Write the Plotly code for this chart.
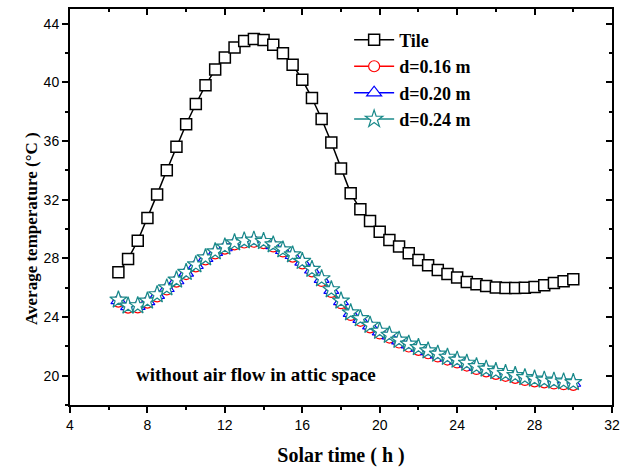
import plotly.graph_objects as go

solar_time = [6.5, 7.0, 7.5, 8.0, 8.5, 9.0, 9.5, 10.0, 10.5, 11.0, 11.5, 12.0,
              12.5, 13.0, 13.5, 14.0, 14.5, 15.0, 15.5, 16.0, 16.5, 17.0, 17.5, 18.0,
              18.5, 19.0, 19.5, 20.0, 20.5, 21.0, 21.5, 22.0, 22.5, 23.0, 23.5, 24.0,
              24.5, 25.0, 25.5, 26.0, 26.5, 27.0, 27.5, 28.0, 28.5, 29.0, 29.5, 30.0]

tile = [27.05, 27.95, 29.2, 30.75, 32.36, 34.0, 35.6, 37.14, 38.52, 39.8, 40.88, 41.7,
        42.38, 42.81, 42.95, 42.88, 42.56, 41.99, 41.2, 40.18, 38.93, 37.5, 35.9, 34.13,
        32.43, 31.34, 30.54, 29.82, 29.25, 28.8, 28.35, 27.89, 27.53, 27.21, 26.94, 26.69,
        26.39, 26.24, 26.12, 26.01, 25.97, 25.97, 25.99, 26.05, 26.17, 26.31, 26.44, 26.58]

d016 = [25.05, 24.64, 24.66, 24.98, 25.41, 25.88, 26.41, 26.93, 27.45, 27.93, 28.34, 28.66,
        28.95, 29.08, 29.13, 29.04, 28.81, 28.47, 28.12, 27.66, 27.11, 26.46, 25.71, 24.94,
        24.14, 23.74, 23.29, 22.88, 22.6, 22.26, 21.99, 21.76, 21.53, 21.31, 21.1, 20.9,
        20.69, 20.46, 20.29, 20.12, 19.99, 19.85, 19.71, 19.61, 19.54, 19.47, 19.42, 19.37]

d020 = [25.13, 24.72, 24.74, 25.06, 25.49, 25.96, 26.49, 27.01, 27.53, 28.01, 28.42, 28.74,
        29.03, 29.16, 29.21, 29.12, 28.89, 28.55, 28.21, 27.76, 27.22, 26.58, 25.83, 25.06,
        24.26, 23.86, 23.41, 23.0, 22.73, 22.39, 22.12, 21.89, 21.66, 21.44, 21.23, 21.03,
        20.82, 20.59, 20.42, 20.25, 20.12, 19.98, 19.84, 19.74, 19.67, 19.6, 19.55, 19.5]

d024 = [25.17, 24.76, 24.78, 25.1, 25.53, 26.0, 26.53, 27.05, 27.57, 28.05, 28.46, 28.78,
        29.07, 29.2, 29.25, 29.16, 28.93, 28.59, 28.25, 27.8, 27.26, 26.62, 25.87, 25.1,
        24.3, 23.9, 23.45, 23.04, 22.77, 22.43, 22.16, 21.93, 21.7, 21.48, 21.27, 21.07,
        20.86, 20.63, 20.46, 20.29, 20.16, 20.02, 19.88, 19.78, 19.71, 19.64, 19.59, 19.54]

x_ticks = [4, 8, 12, 16, 20, 24, 28, 32]
y_ticks = [20, 24, 28, 32, 36, 40, 44]

SERIF = "Liberation Serif, Times New Roman, serif"
SANS = "Liberation Sans, Arial, sans-serif"
TEAL = "#1a8a8a"

fig = go.Figure()
fig.add_trace(go.Scatter(x=solar_time, y=tile, name="Tile", mode="lines+markers",
                         line=dict(color="black", width=1.5),
                         marker=dict(symbol="square", size=11, color="white",
                                     line=dict(color="black", width=1.5))))
fig.add_trace(go.Scatter(x=solar_time, y=d016, name="d=0.16 m", mode="lines+markers",
                         line=dict(color="red", width=1.5),
                         marker=dict(symbol="circle", size=11, color="white",
                                     line=dict(color="red", width=1.2))))
fig.add_trace(go.Scatter(x=solar_time, y=d020, name="d=0.20 m", mode="lines+markers",
                         line=dict(color="blue", width=1.5),
                         marker=dict(symbol="triangle-up", size=13, color="white",
                                     line=dict(color="blue", width=1.2))))
fig.add_trace(go.Scatter(x=solar_time, y=d024, name="d=0.24 m", mode="lines+markers",
                         line=dict(color=TEAL, width=1.5),
                         marker=dict(symbol="star", size=13, color="white",
                                     line=dict(color=TEAL, width=1.2))))
# helper trace for mirrored (top/right) axes with inward ticks
fig.add_trace(go.Scatter(x=[None], y=[None], xaxis="x2", yaxis="y2",
                         showlegend=False, hoverinfo="skip"))

common = dict(showgrid=False, zeroline=False, linecolor="black", linewidth=2)
fig.update_layout(
    width=627, height=470,
    margin=dict(l=70, r=7, t=9, b=65),
    plot_bgcolor="white", paper_bgcolor="white",
    showlegend=True,
    xaxis=dict(range=[4, 32], tickvals=x_ticks, ticks="outside", ticklen=6, tickwidth=1.5,
               tickcolor="black", minor=dict(dtick=2, ticks="outside", ticklen=3,
                                             tickwidth=1.5, tickcolor="black", tick0=0),
               tickfont=dict(family=SANS, size=14, color="black"),
               ticklabeloverflow="allow",
               title=dict(text="<b>Solar time ( h )</b>", standoff=16,
                          font=dict(family=SERIF, size=20, color="black")),
               **common),
    yaxis=dict(range=[18, 45], tickvals=y_ticks, ticks="outside", ticklen=6, tickwidth=1.5,
               tickcolor="black", minor=dict(dtick=2, ticks="outside", ticklen=3,
                                             tickwidth=1.5, tickcolor="black", tick0=0),
               tickfont=dict(family=SANS, size=14, color="black"),
               **common),
    xaxis2=dict(range=[4, 32], overlaying="x", side="top", anchor="y", tickvals=x_ticks,
                ticks="inside", ticklen=6, tickwidth=1.5, tickcolor="black",
                minor=dict(dtick=2, ticks="inside", ticklen=3, tickwidth=1.5,
                           tickcolor="black", tick0=0),
                showticklabels=False, **common),
    yaxis2=dict(range=[18, 45], overlaying="y", side="right", anchor="x", tickvals=y_ticks,
                ticks="inside", ticklen=6, tickwidth=1.5, tickcolor="black",
                minor=dict(dtick=2, ticks="inside", ticklen=3, tickwidth=1.5,
                           tickcolor="black", tick0=0),
                showticklabels=False, **common),
    legend=dict(x=0.515, y=0.968, xanchor="left", yanchor="top",
                bgcolor="rgba(0,0,0,0)", borderwidth=0, itemwidth=40,
                font=dict(family=SERIF, size=18, color="black"),
                tracegroupgap=0),
    annotations=[
        dict(text="<b>without air flow in attic space</b>", x=13.6, y=20.05,
             xref="x", yref="y", showarrow=False,
             font=dict(family=SERIF, size=19, color="black")),
        dict(text="<b>Average temperature (°C )</b>", x=-0.091, y=0.445,
             xref="paper", yref="paper", showarrow=False, textangle=-90,
             font=dict(family=SERIF, size=17, color="black")),
    ],
)
for tr in fig.data[:4]:
    tr.name = "<b>" + tr.name + "</b>"

fig.write_html("out.html")
